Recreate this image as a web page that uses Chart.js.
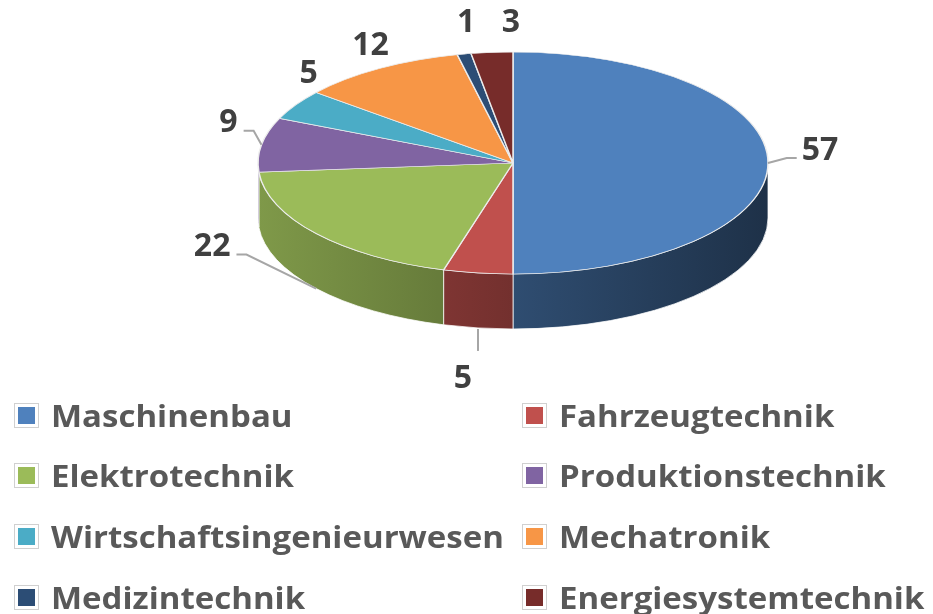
<!DOCTYPE html>
<html><head><meta charset="utf-8">
<script src="https://cdn.jsdelivr.net/npm/chart.js@4"></script>
<style>
html,body{margin:0;padding:0;background:#fff;}
#wrap{position:relative;width:933px;height:614px;overflow:hidden;}
canvas{position:absolute;left:0;top:0;}
#legend{position:absolute;left:0;top:0;width:933px;height:614px;font-family:"Open Sans",sans-serif;font-weight:700;font-size:30px;color:#595959;}
.item{position:absolute;display:flex;align-items:center;white-space:nowrap;height:40px;}
.box{display:inline-block;width:17px;height:17px;border:3px solid #fff;outline:1px solid #d0d0d0;margin-right:13px;box-sizing:content-box;flex:none;}
.txt{display:inline-block;transform:scaleX(1.1);transform-origin:0 50%;}
</style></head>
<body><div id="wrap"><canvas id="c" width="933" height="614"></canvas><div id="legend"></div></div>
<script>
const categories = ['Maschinenbau','Fahrzeugtechnik','Elektrotechnik','Produktionstechnik','Wirtschaftsingenieurwesen','Mechatronik','Medizintechnik','Energiesystemtechnik'];
const values = [57, 5, 22, 9, 5, 12, 1, 3];
const colors = ['#4f81bd','#c0504d','#9bbb59','#8064a2','#4bacc6','#f79646','#2c4d75','#772c2a'];

// label layout (offset of each value label from its rim anchor) and leader style
const labelNudge = [[52,-15],[-15,49],[-104,-44],[-33,-24],[13,-33],[-9,-25],[2,-34],[19,-32]];
const leaderKind = ['right','down','left','left',null,null,null,null];

const RADIUS = 255, TILT = 111/255, DEPTH = 55;

function shade(hex, f){
  const n = parseInt(hex.slice(1),16);
  const r = Math.round(((n>>16)&255)*f), g = Math.round(((n>>8)&255)*f), b = Math.round((n&255)*f);
  return `rgb(${r},${g},${b})`;
}

const pie3d = {
  id: 'pie3d',
  beforeDatasetsDraw(chart){
    const ctx = chart.ctx, meta = chart.getDatasetMeta(0);
    const a0 = meta.data[0], cx = a0.x, cy = a0.y, R = a0.outerRadius, ry = R*TILT;
    meta.data.forEach((arc, i) => {
      const s = Math.max(arc.startAngle, 0), e = Math.min(arc.endAngle, Math.PI);
      if (e <= s) return;
      ctx.beginPath();
      ctx.ellipse(cx, cy, R, ry, 0, s, e, false);
      ctx.ellipse(cx, cy + DEPTH, R, ry, 0, e, s, true);
      ctx.closePath();
      const g = ctx.createLinearGradient(cx - R, 0, cx + R, 0);
      g.addColorStop(0, shade(colors[i], 0.82));
      g.addColorStop(0.5, shade(colors[i], 0.6));
      g.addColorStop(1, shade(colors[i], 0.38));
      ctx.fillStyle = g; ctx.fill();
      ctx.strokeStyle = 'rgba(255,255,255,0.75)'; ctx.lineWidth = 1; ctx.stroke();
    });
    ctx.save();
    ctx.translate(cx, cy); ctx.scale(1, TILT); ctx.translate(-cx, -cy);
  },
  afterDatasetsDraw(chart){
    const ctx = chart.ctx;
    ctx.restore();
    const meta = chart.getDatasetMeta(0);
    const a0 = meta.data[0], cx = a0.x, cy = a0.y, R = a0.outerRadius, ry = R*TILT;
    ctx.save();
    ctx.font = 'bold 32px "Open Sans"';
    ctx.textAlign = 'center'; ctx.textBaseline = 'alphabetic';
    meta.data.forEach((arc, i) => {
      const m = (arc.startAngle + arc.endAngle)/2;
      const ax = cx + R*Math.cos(m);
      let ay = cy + ry*Math.sin(m);
      if (Math.sin(m) > 0.3) ay += DEPTH;
      const lx = ax + labelNudge[i][0], ly = ay + labelNudge[i][1];
      const txt = String(values[i]);
      const w = ctx.measureText(txt).width;
      ctx.strokeStyle = '#a6a6a6'; ctx.lineWidth = 2;
      const k = leaderKind[i];
      if (k === 'right' || k === 'left') {
        const ex = k === 'right' ? lx - w/2 - 5 : lx + w/2 + 6;
        const elx = k === 'right' ? ex - 10 : ex + 10;
        ctx.beginPath(); ctx.moveTo(ax, ay); ctx.lineTo(elx, ly + 10); ctx.lineTo(ex, ly + 10); ctx.stroke();
      } else if (k === 'down') {
        ctx.beginPath(); ctx.moveTo(ax, ay + 1); ctx.lineTo(ax, ly - 26); ctx.stroke();
      }
      ctx.fillStyle = '#404040';
      ctx.fillText(txt, lx, ly + 11.5);
    });
    ctx.restore();
  }
};

new Chart(document.getElementById('c'), {
  type: 'pie',
  data: {
    labels: categories,
    datasets: [{
      data: values,
      backgroundColor: colors,
      borderColor: '#ececec',
      borderWidth: 1.5,
      radius: RADIUS,
      clip: false
    }]
  },
  options: {
    responsive: false,
    animation: false,
    devicePixelRatio: 1,
    events: [],
    layout: { padding: { left: 93, right: 0, top: 0, bottom: 614 - 326 } },
    plugins: { legend: { display: false }, tooltip: { enabled: false } }
  },
  plugins: [pie3d]
});

const legend = document.getElementById('legend');
categories.forEach((c, i) => {
  const row = Math.floor(i/2), col = i % 2;
  const d = document.createElement('div');
  d.className = 'item';
  d.style.left = (col ? 523 : 15) + 'px';
  d.style.top = (415 + row*60.7 - 20) + 'px';
  const b = document.createElement('span'); b.className = 'box'; b.style.background = colors[i];
  const t = document.createElement('span'); t.className = 'txt'; t.textContent = c;
  d.appendChild(b); d.appendChild(t);
  legend.appendChild(d);
});
</script>
</body></html>
